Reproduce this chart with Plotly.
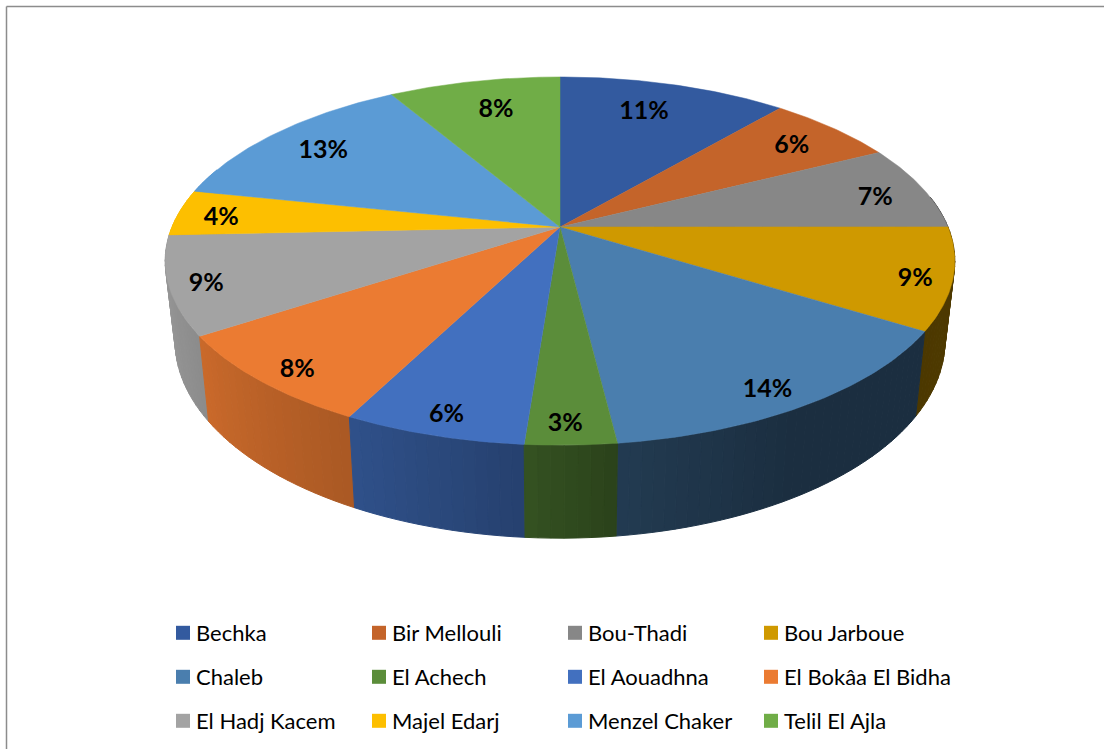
import numpy as np
import plotly.graph_objects as go

# --- data ---
categories = ["Bechka", "Bir Mellouli", "Bou-Thadi", "Bou Jarboue",
              "Chaleb", "El Achech", "El Aouadhna", "El Bokâa El Bidha",
              "El Hadj Kacem", "Majel Edarj", "Menzel Chaker", "Telil El Ajla"]
values = [11.2, 6.3, 7.49, 8.91, 14.17, 3.13, 6.29, 8.21, 8.6, 4.05, 13.25, 8.4]
percent_labels = ["11%", "6%", "7%", "9%", "14%", "3%", "6%", "8%", "9%", "4%", "13%", "8%"]
colors = ["#335A9F", "#C4642A", "#878787", "#CF9900", "#4A7EAE", "#5B8D3A",
          "#4270BF", "#EB7B32", "#A3A3A3", "#FDBF00", "#5B9BD5", "#70AD47"]

# --- perspective styling of the disc (pixel space of the 1104x749 page) ---
W, H = 1104, 749
CX, CY, A, B, K = 560, 227, 388, 177.8, 0.185
label_radius = [.79, .83, .86, .91, .90, .91, .91, .91, .91, .885, .82, .79]
label_turn = [-2, .3, 1.2, 1, 1.85, .6, 0, -1.3, -.6, -.8, 0, 1.3]
LABEL_DROP = 3
shade_theta = [90, 122, 150, 173, 184, 206, 236, 270, 285]
shade_level = [.39, .37, .37, .47, .58, .72, .86, .97, 1.0]
legend_rows_y = [633, 677, 721]
legend_left = 156
legend_step = 151
LEG_FONT = 22
LAB_FONT = 25


def top_xy(theta_deg, r=1.0):
    t = np.radians(theta_deg)
    u, v = r * np.sin(t), r * np.cos(t)
    w = 1 + K * v
    return CX + A * u / w, CY - B * v / w


def bottom_xy(theta_deg):
    x, y = top_xy(theta_deg)
    return CX + 0.975 * (x - CX), y + 85 + 0.0714 * (y - 333)


def shade(hex_color, f):
    rgb = [int(hex_color[i:i + 2], 16) for i in (1, 3, 5)]
    return "rgb(%d,%d,%d)" % tuple(int(c * f) for c in rgb)


total = sum(values)
edges = np.concatenate([[0], np.cumsum(values)]) / total * 360
fig = go.Figure()

# side wall strips, painted from the back towards the viewer
strips = []
for i, color in enumerate(colors):
    lo, hi = max(edges[i], 80), min(edges[i + 1], 290)
    if hi <= lo:
        continue
    n = max(1, int((hi - lo) / 1.5))
    steps = np.linspace(lo, hi, n + 1)
    for a, b in zip(steps[:-1], steps[1:]):
        strips.append((abs(180 - (a + b) / 2), a, b, color))
for _, a, b, color in sorted(strips, key=lambda s: -s[0]):
    ts = [a, b]
    xt, yt = top_xy(np.array(ts))
    xb, yb = bottom_xy(np.array(ts))
    c = shade(color, float(np.interp((a + b) / 2, shade_theta, shade_level)))
    fig.add_trace(go.Scatter(
        x=[xt[0], xt[1], xb[1], xb[0], xt[0]], y=[yt[0], yt[1], yb[1], yb[0], yt[0]],
        mode="lines", fill="toself", fillcolor=c, line=dict(color=c, width=1),
        hoverinfo="skip", showlegend=False))

# top surface slices
for i, (name, color) in enumerate(zip(categories, colors)):
    th = np.linspace(edges[i], edges[i + 1], 60)
    xs, ys = top_xy(th)
    fig.add_trace(go.Scatter(
        x=np.concatenate([[CX], xs, [CX]]), y=np.concatenate([[CY], ys, [CY]]),
        mode="lines", fill="toself", fillcolor=color, line=dict(color=color, width=0.5),
        name=name, legendgroup=name, showlegend=False, hoveron="fills",
        text=f"{name}: {percent_labels[i]}", hoverinfo="text"))

# percent labels
mids = (edges[:-1] + edges[1:]) / 2 + np.array(label_turn)
lx, ly = top_xy(mids, np.array(label_radius))
fig.add_trace(go.Scatter(
    x=lx, y=ly + LABEL_DROP, mode="text", text=percent_labels, showlegend=False, hoverinfo="skip",
    textposition="middle center",
    textfont=dict(family="Lato", size=LAB_FONT, color="#000000", weight="bold")))

# legend entries, one legend per row
legend_layout = {}
for row, y_px in enumerate(legend_rows_y):
    key = "legend" if row == 0 else f"legend{row + 1}"
    legend_layout[key] = dict(
        orientation="h", x=legend_left / W, xanchor="left", y=1 - y_px / H, yanchor="middle",
        entrywidth=legend_step, entrywidthmode="pixels", bgcolor="rgba(0,0,0,0)", borderwidth=0,
        font=dict(family="Lato", size=LEG_FONT, color="#000000"), itemclick=False, itemdoubleclick=False)
    for col in range(4):
        idx = row * 4 + col
        fig.add_trace(go.Scatter(
            x=[None], y=[None], mode="markers", name=categories[idx], legendgroup=categories[idx],
            marker=dict(symbol="square", size=14, color=colors[idx]), legend=key, showlegend=True))

fig.update_layout(
    width=W, height=H, margin=dict(l=0, r=0, t=0, b=0, autoexpand=False),
    paper_bgcolor="white", plot_bgcolor="white",
    xaxis=dict(range=[0, W], visible=False, fixedrange=True),
    yaxis=dict(range=[H, 0], visible=False, fixedrange=True),
    shapes=[dict(type="line", xref="x", yref="y", x0=6.5, x1=6.5, y0=H, y1=6.5,
                 line=dict(color="#8C8C8C", width=1.5)),
            dict(type="line", xref="x", yref="y", x0=6.5, x1=W, y0=6.5, y1=6.5,
                 line=dict(color="#8C8C8C", width=1.5))],
    **legend_layout)

fig.write_html("out.html", config=dict(displayModeBar=False),
               post_script="document.body.style.margin='0';document.body.style.overflow='hidden';"
                           "document.querySelectorAll('.legendsymbols').forEach(function(s){"
                           "s.setAttribute('transform','translate(7,0)');});"
                           "document.querySelectorAll('clipPath').forEach(function(c){"
                           "if(!/legend/.test(c.id)){return;}"
                           "c.querySelectorAll('rect').forEach(function(r){r.setAttribute('width','940');});});"
                           "document.querySelectorAll('.legend .scrollbox, .legend .groups, .legend .traces').forEach(function(s){"
                           "s.removeAttribute('clip-path');});")
